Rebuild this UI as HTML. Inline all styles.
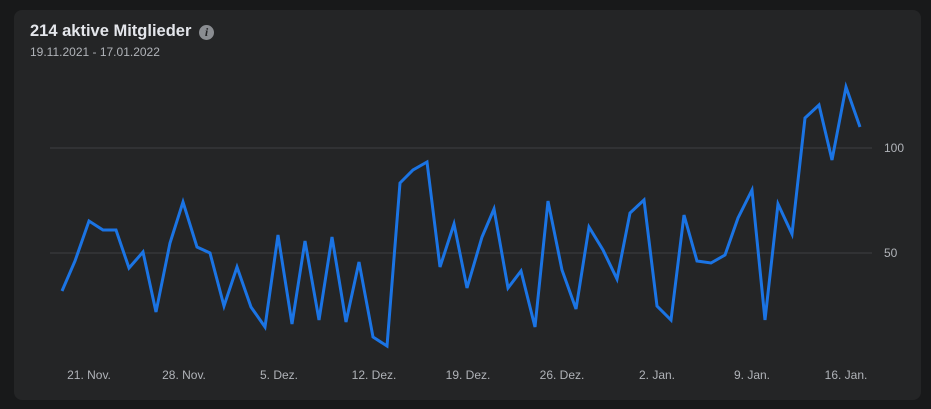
<!DOCTYPE html>
<html><head><style>
body{margin:0;background:#18191a;width:931px;height:409px;overflow:hidden;font-family:"Liberation Sans",sans-serif}
.card{position:absolute;left:14px;top:10px;width:907px;height:390px;background:#242526;border-radius:8px}
.t{position:absolute;left:30px;top:22px;color:#e4e6eb;font-weight:bold;font-size:16.5px}
.s{position:absolute;left:30px;top:45px;color:#b0b3b8;font-size:12px}
.i{position:absolute;left:199px;top:25px;width:15px;height:15px;border-radius:50%;background:#8a8d91;color:#242526;font-size:12px;font-weight:bold;font-style:italic;text-align:center;line-height:15px;font-family:"Liberation Serif",serif}
</style></head><body>
<div class="card"></div>
<div class="t">214 aktive Mitglieder</div><div class="i">i</div>
<div class="s">19.11.2021 - 17.01.2022</div>
<svg width="931" height="409" style="position:absolute;left:0;top:0">
<line x1="50" y1="148" x2="872" y2="148" stroke="#3e4042"/>
<line x1="50" y1="253" x2="872" y2="253" stroke="#3e4042"/>
<g fill="#b0b3b8" font-size="12" font-family="Liberation Sans,sans-serif">
<text x="884" y="152">100</text><text x="884" y="257">50</text>
<g text-anchor="middle">
<text x="89" y="379">21. Nov.</text><text x="184" y="379">28. Nov.</text><text x="279" y="379">5. Dez.</text><text x="374" y="379">12. Dez.</text><text x="468" y="379">19. Dez.</text><text x="562" y="379">26. Dez.</text><text x="657" y="379">2. Jan.</text><text x="752" y="379">9. Jan.</text><text x="846" y="379">16. Jan.</text>
</g></g>
<polyline fill="none" stroke="#1b74e4" stroke-width="3" stroke-linejoin="miter" points="62,291 75,261 89,221 103,230 116,230 129,268 143,252 156,312 170,243 183,202 197,247 210,253 224,306 237,267 251,307 265,327 278,235 292,324 305,241 319,320 332,237 346,322 359,262 373,337 387,346 400,183 413,170 427,162 440,267 454,224 467,288 482,237 494,209 508,288 521,271 535,327 548,201 562,270 576,309 589,227 603,250 617,279 630,213 644,200 657,306 671,320 684,215 697,261 711,263 725,255 738,218 752,190 765,320 778,204 792,234 805,118 819,105 832,160 846,87 860,127"/>
</svg>
</body></html>
